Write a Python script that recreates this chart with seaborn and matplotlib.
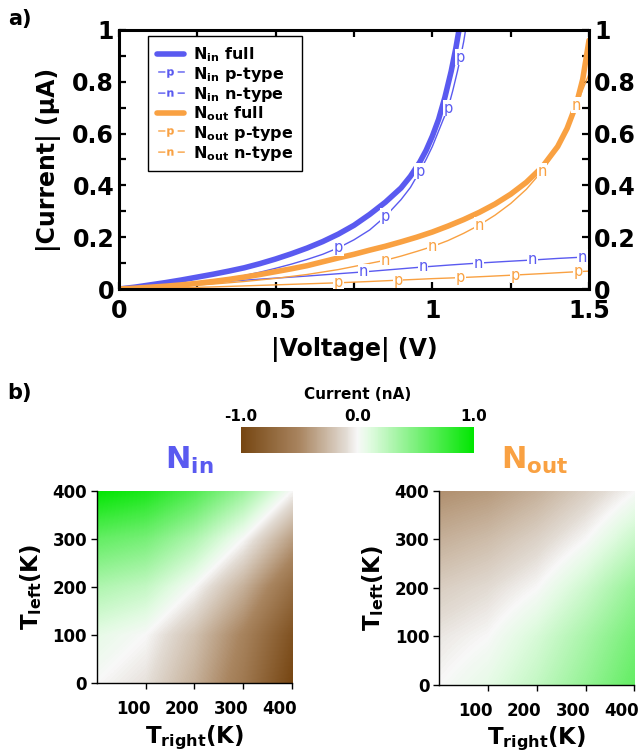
import numpy as np
import matplotlib
matplotlib.use('Agg')
import matplotlib.pyplot as plt
import matplotlib.transforms as mtransforms
import seaborn as sns
from matplotlib.colors import LinearSegmentedColormap
from matplotlib.lines import Line2D
from matplotlib.ticker import MultipleLocator, FuncFormatter

# ---- panel a) I-V curves (read off the figure) ----
v_in_full = [0, 0.05, 0.1, 0.15, 0.2, 0.25, 0.3, 0.35, 0.4, 0.45, 0.5, 0.55, 0.6, 0.65, 0.7, 0.75,
             0.8, 0.85, 0.9, 0.93, 0.96, 0.98, 1.0, 1.02, 1.04, 1.06, 1.075, 1.085, 1.095]
i_in_full = [0, 0.007, 0.016, 0.025, 0.035, 0.046, 0.057, 0.069, 0.082, 0.098, 0.116, 0.136, 0.158,
             0.183, 0.212, 0.246, 0.288, 0.335, 0.39, 0.435, 0.49, 0.535, 0.59, 0.655, 0.74, 0.84,
             0.93, 1.0, 1.07]

v_in_p = [0, 0.05, 0.1, 0.15, 0.2, 0.25, 0.3, 0.35, 0.4, 0.45, 0.5, 0.55, 0.6, 0.65, 0.7, 0.75,
          0.8, 0.85, 0.9, 0.93, 0.96, 0.98, 1.0, 1.02, 1.035, 1.05, 1.065, 1.08, 1.09, 1.1, 1.11]
i_in_p = [0, 0.004, 0.009, 0.014, 0.02, 0.027, 0.034, 0.042, 0.052, 0.065, 0.08, 0.096, 0.114,
          0.134, 0.159, 0.19, 0.228, 0.28, 0.345, 0.392, 0.455, 0.5, 0.55, 0.61, 0.655, 0.698,
          0.765, 0.84, 0.895, 0.955, 1.03]
in_p_marks = [0.7, 0.85, 0.96, 1.05, 1.09]

v_in_n = [0, 0.1, 0.2, 0.3, 0.4, 0.5, 0.6, 0.7, 0.78, 0.9, 0.97, 1.06, 1.146, 1.23, 1.32, 1.4, 1.48, 1.5]
i_in_n = [0, 0.01, 0.018, 0.026, 0.034, 0.042, 0.05, 0.059, 0.066, 0.078, 0.085, 0.093, 0.1,
          0.106, 0.112, 0.118, 0.123, 0.124]
in_n_marks = [0.78, 0.97, 1.146, 1.32, 1.48]

v_out_full = [0, 0.05, 0.1, 0.15, 0.2, 0.25, 0.3, 0.35, 0.4, 0.45, 0.5, 0.55, 0.6, 0.65, 0.7, 0.75,
              0.8, 0.85, 0.9, 0.95, 1.0, 1.05, 1.1, 1.15, 1.2, 1.25, 1.3, 1.35, 1.4, 1.43, 1.46,
              1.48, 1.5]
i_out_full = [0, 0.003, 0.007, 0.011, 0.016, 0.022, 0.029, 0.037, 0.046, 0.056, 0.067, 0.078, 0.09,
              0.105, 0.12, 0.134, 0.15, 0.165, 0.182, 0.2, 0.22, 0.243, 0.268, 0.296, 0.328, 0.366,
              0.412, 0.47, 0.55, 0.62, 0.715, 0.81, 0.96]

v_out_p = [0, 0.1, 0.2, 0.3, 0.4, 0.5, 0.6, 0.7, 0.8, 0.89, 1.0, 1.09, 1.18, 1.264, 1.36, 1.465, 1.5]
i_out_p = [0, 0.002, 0.005, 0.008, 0.012, 0.016, 0.02, 0.024, 0.029, 0.034, 0.04, 0.044, 0.049,
           0.054, 0.06, 0.067, 0.069]
out_p_marks = [0.7, 0.89, 1.09, 1.264, 1.465]

v_out_n = [0, 0.1, 0.2, 0.3, 0.4, 0.5, 0.6, 0.7, 0.75, 0.8, 0.85, 0.9, 0.95, 1.0, 1.05, 1.1, 1.15,
           1.2, 1.25, 1.3, 1.35, 1.4, 1.43, 1.46, 1.48, 1.5]
i_out_n = [0, 0.004, 0.011, 0.019, 0.029, 0.041, 0.056, 0.075, 0.087, 0.099, 0.111, 0.127, 0.145,
           0.164, 0.187, 0.215, 0.247, 0.285, 0.33, 0.385, 0.455, 0.545, 0.62, 0.71, 0.77, 0.83]
out_n_marks = [0.85, 1.0, 1.15, 1.35, 1.46]

# ---- panel b) current maps, rows = T_left, cols = T_right ----
temps = [0, 100, 200, 300, 400]
map_in = [[0.00, -0.08, -0.30, -0.60, -1.00],
          [0.08, 0.00, -0.22, -0.52, -0.90],
          [0.30, 0.22, 0.00, -0.30, -0.68],
          [0.60, 0.52, 0.30, 0.00, -0.38],
          [1.00, 0.90, 0.68, 0.38, 0.00]]
map_out = [[0.00, 0.08, 0.22, 0.40, 0.60],
           [-0.06, 0.00, 0.14, 0.32, 0.52],
           [-0.16, -0.10, 0.00, 0.18, 0.40],
           [-0.30, -0.24, -0.14, 0.00, 0.20],
           [-0.45, -0.40, -0.30, -0.16, 0.00]]

BLUE = '#5a5af0'
ORANGE = '#f9a142'

sns.set_theme(style='ticks')
plt.rcParams.update({
    'font.family': ['DejaVu Sans'],
    'font.weight': 'bold',
    'axes.labelweight': 'bold',
    'mathtext.fontset': 'dejavusans',
    'mathtext.default': 'bf',
    'text.color': 'black',
    'axes.labelcolor': 'black',
    'axes.edgecolor': 'black',
    'xtick.color': 'black',
    'ytick.color': 'black',
})

fig = plt.figure(figsize=(6.41, 7.53), dpi=100)

# ================= a) =================
ax = fig.add_axes([0.1857, 0.6162, 0.7332, 0.344])


def draw_curve(v, i, color, lw, letter=None, marks=()):
    sns.lineplot(x=v, y=i, ax=ax, color=color, lw=lw, estimator=None, sort=False)
    for mv in marks:
        k = v.index(mv)
        ax.text(v[k], i[k], letter, color=color, fontsize=10.5, fontweight='normal',
                ha='center', va='center', zorder=5, clip_on=True,
                bbox=dict(boxstyle='square,pad=0.05', fc='white', ec='none'))


draw_curve(v_in_full, i_in_full, BLUE, 4.0)
draw_curve(v_in_p, i_in_p, BLUE, 1.0, 'p', in_p_marks)
draw_curve(v_in_n, i_in_n, BLUE, 1.0, 'n', in_n_marks)
draw_curve(v_out_full, i_out_full, ORANGE, 4.0)
draw_curve(v_out_p, i_out_p, ORANGE, 1.0, 'p', out_p_marks)
draw_curve(v_out_n, i_out_n, ORANGE, 1.0, 'n', out_n_marks)

ax.set_xlim(0, 1.5)
ax.set_ylim(0, 1)
ax.xaxis.set_major_locator(MultipleLocator(0.5))
ax.xaxis.set_minor_locator(MultipleLocator(0.25))
ax.yaxis.set_major_locator(MultipleLocator(0.2))
ax.yaxis.set_minor_locator(MultipleLocator(0.1))
fmt = FuncFormatter(lambda v, p: f'{v:g}')
ax.xaxis.set_major_formatter(fmt)
ax.yaxis.set_major_formatter(fmt)
ax.tick_params(which='both', direction='in', top=True, right=True, labelright=True,
               width=1.6, length=5, labelsize=17)
ax.tick_params(axis='x', pad=7)
for s in ax.spines.values():
    s.set_linewidth(2.2)
ax.set_xlabel('|Voltage| (V)', fontsize=17, labelpad=10)
ax.set_ylabel('|Current| (μA)', fontsize=17, labelpad=8)


def letter_handle(color, letter):
    return Line2D([], [], ls='none', marker=r'$\mathregular{-%s-}$' % letter, ms=19,
                  mfc=color, mec=color, mew=0.1)


handles = [Line2D([], [], color=BLUE, lw=4),
           letter_handle(BLUE, 'p'), letter_handle(BLUE, 'n'),
           Line2D([], [], color=ORANGE, lw=4),
           letter_handle(ORANGE, 'p'), letter_handle(ORANGE, 'n')]
labels = [r'N$_{in}$ full', r'N$_{in}$ p-type', r'N$_{in}$ n-type',
          r'N$_{out}$ full', r'N$_{out}$ p-type', r'N$_{out}$ n-type']
leg = ax.legend(handles, labels, loc='upper left', bbox_to_anchor=(0.062, 0.975),
                borderaxespad=0, fontsize=11.5, handlelength=1.7, handletextpad=0.55,
                labelspacing=0.05, borderpad=0.55, fancybox=False, framealpha=1,
                edgecolor='black')
leg.get_frame().set_linewidth(1.0)

fig.text(0.012, 0.975, 'a)', fontsize=15, fontweight='bold', va='center')
fig.text(0.012, 0.478, 'b)', fontsize=15, fontweight='bold', va='center')

# ================= b) =================
cmap = LinearSegmentedColormap.from_list(
    'brown_green',
    [(0.0, '#764612'), (0.25, '#a98560'), (0.45, '#e2dbd3'), (0.5, '#f8f8f8'),
     (0.55, '#e2fbe2'), (0.75, '#7cf07c'), (1.0, '#00e600')])

step = temps[1] - temps[0]
extent = (temps[0] - step / 2, temps[-1] + step / 2, temps[0] - step / 2, temps[-1] + step / 2)
label_shift = mtransforms.ScaledTranslation(-9 / 72, 0, fig.dpi_scale_trans)


def draw_map(rect, values, title, color, title_x):
    hx = fig.add_axes(rect)
    im = hx.imshow(np.array(values), cmap=cmap, vmin=-1, vmax=1, origin='lower',
                   extent=extent, interpolation='bilinear', aspect='auto')
    hx.set_xlim(temps[0], temps[-1])
    hx.set_ylim(temps[0], temps[-1])
    hx.set_xticks(temps[1:])
    hx.set_yticks(temps)
    hx.tick_params(labelsize=12, length=4, width=1, pad=3)
    hx.tick_params(axis='x', pad=8)
    for lab in hx.get_xticklabels():
        lab.set_transform(lab.get_transform() + label_shift)
    for side in ('top', 'right'):
        hx.spines[side].set_visible(False)
    for side in ('left', 'bottom'):
        hx.spines[side].set_linewidth(1.0)
    hx.set_xlabel(r'T$_{right}$(K)', fontsize=16.5, labelpad=4)
    hx.set_ylabel(r'T$_{left}$(K)', fontsize=16.5, labelpad=6)
    hx.set_title(title, color=color, fontsize=22, fontweight='bold', x=title_x, pad=16)
    return im


im = draw_map([0.1509, 0.0926, 0.3047, 0.2558], map_in, r'N$_{in}$', BLUE, 0.473)
draw_map([0.6849, 0.0905, 0.3047, 0.2575], map_out, r'N$_{out}$', ORANGE, 0.49)

cax = fig.add_axes([0.376, 0.398, 0.3635, 0.0353])
cb = fig.colorbar(im, cax=cax, orientation='horizontal', ticks=[-1, 0, 1])
cb.outline.set_visible(False)
cax.xaxis.set_ticks_position('top')
cax.set_xticklabels(['-1.0', '0.0', '1.0'])
cax.tick_params(length=0, labelsize=11, pad=2)
cax.set_title('Current (nA)', fontsize=11, fontweight='bold', pad=20)

fig.savefig('out.png', dpi=100)
